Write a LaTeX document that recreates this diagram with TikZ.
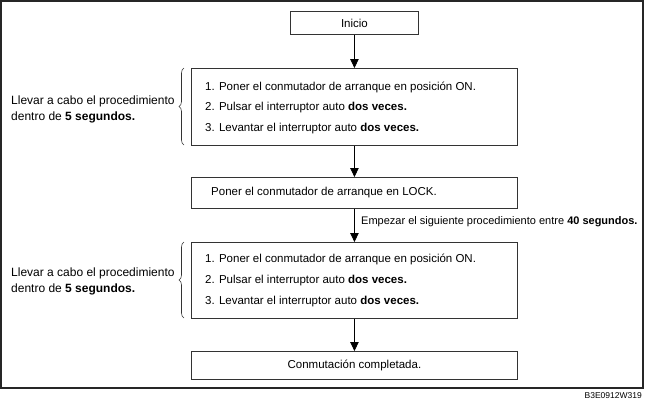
\documentclass[tikz,border=0pt]{standalone}
\usepackage{fontspec}
\setmainfont{Liberation Sans}
\usetikzlibrary{arrows.meta,decorations.pathreplacing}
\begin{document}
\begin{tikzpicture}[x=1pt,y=-1pt,
  every node/.style={font=\fontsize{11.5}{16}\selectfont, inner sep=0pt},
  box/.style={draw=black!80, line width=0.9pt, anchor=north west},
  txt/.style={anchor=west},
  side/.style={anchor=west, align=left, font=\fontsize{12}{16}\selectfont},
  arr/.style={draw=black, line width=0.8pt, -{Triangle[length=9pt,width=8.5pt]}},
  brc/.style={draw=black!80, line width=0.6pt, decorate, decoration={brace, amplitude=5pt}}]
\useasboundingbox (0,0) rectangle (645,408);
\draw[black!85, line width=1.2pt] (1,1) rectangle (643,388);
% boxes
\node[box, minimum width=128, minimum height=23] (inicio) at (290,11) {};
\node at (inicio.center) (tinicio) {Inicio};
\node[box, minimum width=326, minimum height=77] (b1) at (191,68) {};
\node[box, minimum width=326, minimum height=31] (b2) at (191,177) {};
\node[box, minimum width=326, minimum height=76] (b3) at (191,242) {};
\node[box, minimum width=326, minimum height=28] (b4) at (191,351) {};
% texts box 1
\node[txt] (t11) at (205,87) {1. Poner el conmutador de arranque en posición ON.};
\node[txt] (t12) at (205,108) {2. Pulsar el interruptor auto \textbf{dos veces.}};
\node[txt] (t13) at (205,129) {3. Levantar el interruptor auto \textbf{dos veces.}};
\node[txt] (t2) at (211,193) {Poner el conmutador de arranque en LOCK.};
\node[txt] (t31) at (205,259) {1. Poner el conmutador de arranque en posición ON.};
\node[txt] (t32) at (205,281) {2. Pulsar el interruptor auto \textbf{dos veces.}};
\node[txt] (t33) at (205,302) {3. Levantar el interruptor auto \textbf{dos veces.}};
\node (t4) at (b4.center) {Conmutación completada.};
% left texts
\node[side] (l1) at (11,109) {Llevar a cabo el procedimiento\\dentro de \textbf{5 segundos.}};
\node[side] (l3) at (11,281) {Llevar a cabo el procedimiento\\dentro de \textbf{5 segundos.}};
% braces
\draw[brc] (184,145) -- (184,68);
\draw[brc] (184,318) -- (184,242);
% arrows
\draw[arr] (inicio.south) -- (b1.north);
\draw[arr] (b1.south) -- (b2.north);
\draw[arr] (b2.south) -- (b3.north);
\draw[arr] (b3.south) -- (b4.north);
\node[txt, font=\fontsize{11}{14}\selectfont] (lab) at (361,222) {Empezar el siguiente procedimiento entre \textbf{40 segundos.}};
\node[anchor=north east, font=\fontsize{8.5}{10}\selectfont] (code) at (642,392) {B3E0912W319};
\end{tikzpicture}
\end{document}
